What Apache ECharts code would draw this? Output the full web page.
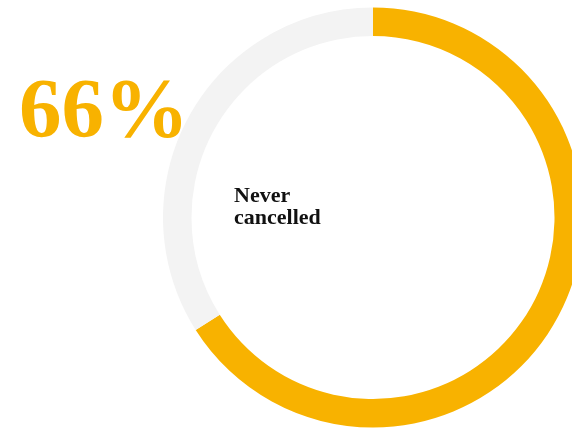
<!DOCTYPE html>
<html>
<head>
<meta charset="utf-8">
<script src="https://cdn.jsdelivr.net/npm/echarts@6/dist/echarts.min.js"></script>
<style>
  html, body { margin: 0; padding: 0; background: #ffffff; }
  #chart { width: 572px; height: 428px; }
</style>
</head>
<body>
<div id="chart"></div>
<script>
// Share of subscribers who never cancelled vs. the rest
const categories = ['Never cancelled', 'Cancelled'];
const values = [66, 34];
const colors = ['#F8B200', '#F3F3F3'];
const headline = values[0] + '%';

const serif = '"Liberation Serif", "Times New Roman", Times, serif';

const chart = echarts.init(document.getElementById('chart'), null, { renderer: 'canvas' });

chart.setOption({
  backgroundColor: '#ffffff',
  animation: false,
  title: [
    {
      text: headline,
      left: 14,
      top: 68,
      textStyle: {
        fontFamily: serif,
        fontWeight: 'bold',
        fontSize: 85,
        color: colors[0]
      }
    },
    {
      text: 'Never\ncancelled',
      left: 229,
      top: 180,
      textStyle: {
        fontFamily: serif,
        fontWeight: 'bold',
        fontSize: 22,
        lineHeight: 22,
        color: '#111111'
      }
    }
  ],
  series: [
    {
      type: 'pie',
      center: [373, 217.5],
      radius: [181.5, 210],
      startAngle: 90,
      clockwise: true,
      silent: true,
      label: { show: false },
      labelLine: { show: false },
      itemStyle: { borderWidth: 0 },
      emphasis: { disabled: true },
      data: categories.map((name, i) => ({
        name: name,
        value: values[i],
        itemStyle: { color: colors[i] }
      }))
    }
  ]
});
</script>
</body>
</html>
